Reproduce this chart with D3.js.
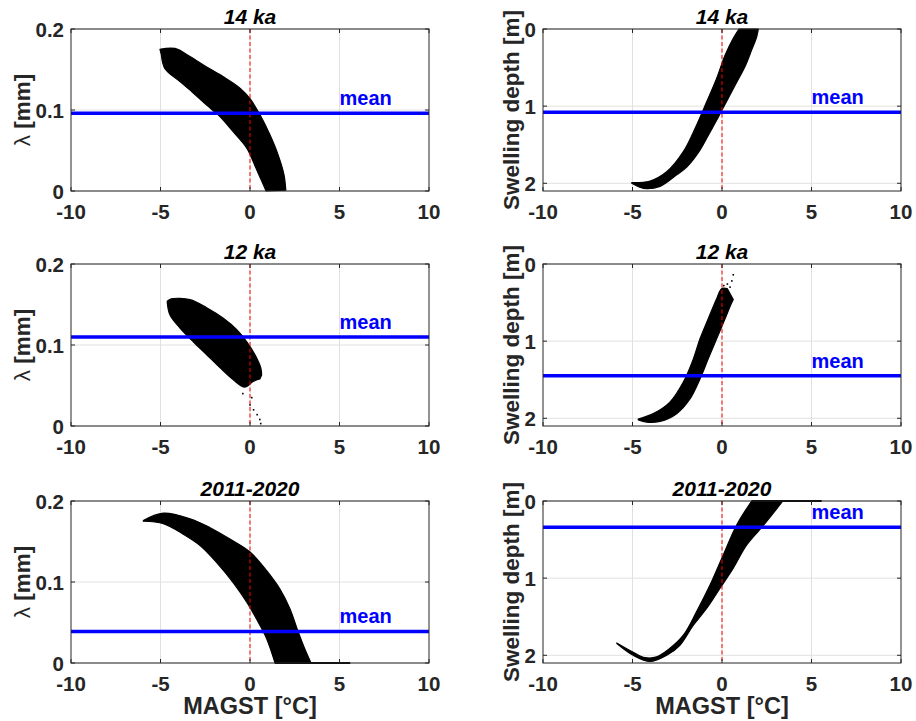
<!DOCTYPE html>
<html>
<head>
<meta charset="utf-8">
<script src="https://cdn.jsdelivr.net/npm/d3@7"></script>
<style>
  body { margin: 0; background: #fff; }
  svg { display: block; font-family: "Liberation Sans", Arial, sans-serif; }
</style>
</head>
<body>
<div id="chart"></div>
<script>
// axis ticks
const magstTicks = [-10, -5, 0, 5, 10];
const lambdaTicks = [0, 0.1, 0.2];
const depthTicks = [0, 1, 2];

const periods = ["14 ka", "12 ka", "2011-2020"];
const lambdaMeans = [0.096, 0.110, 0.039];
const depthMeans = [1.08, 1.45, 0.34];

// scatter clouds read off the picture as two edges each, [MAGST, value]
// lambda (mm)
const lambda14Upper = [[-5.03, 0.175], [-4.19, 0.176], [-3.35, 0.166], [-2.42, 0.153], [-1.49, 0.141],
  [-0.56, 0.127], [0, 0.114], [0.56, 0.094], [1.12, 0.069], [1.58, 0.044], [1.9, 0.020], [2.0, 0.001]];
const lambda14Lower = [[-4.95, 0.168], [-4.75, 0.151], [-3.91, 0.135], [-3.17, 0.121], [-2.42, 0.106],
  [-1.68, 0.092], [-0.93, 0.073], [-0.18, 0.053], [0.3, 0.03], [0.6, 0.015], [0.9, 0]];
const lambda12Upper = [[-4.62, 0.154], [-4.4, 0.157], [-3.35, 0.156], [-2.42, 0.146], [-1.49, 0.133],
  [-0.74, 0.119], [-0.18, 0.104], [0.28, 0.088], [0.60, 0.072], [0.65, 0.063]];
const lambda12Lower = [[-4.62, 0.152], [-4.47, 0.137], [-3.91, 0.121], [-3.17, 0.104], [-2.42, 0.088],
  [-1.68, 0.072], [-0.93, 0.057], [-0.3, 0.048], [0.18, 0.055], [0.55, 0.058]];
const lambdaNowUpper = [[-5.96, 0.176], [-4.84, 0.185], [-3.35, 0.178], [-2.23, 0.167], [-1.12, 0.153],
  [0, 0.137], [0.93, 0.114], [1.68, 0.091], [2.23, 0.067], [2.70, 0.038], [3.07, 0.017], [3.39, 0.001]];
const lambdaNowLower = [[-5.96, 0.175], [-4.84, 0.172], [-3.73, 0.159], [-2.79, 0.145], [-1.86, 0.124],
  [-0.93, 0.099], [-0.18, 0.075], [0.37, 0.054], [0.93, 0.030], [1.40, 0]];

// swelling depth (m)
const depth14Upper = [[-5.04, 1.99], [-4.02, 1.97], [-3.09, 1.85], [-2.16, 1.59], [-1.41, 1.24],
  [-0.85, 0.94], [-0.30, 0.64], [0.17, 0.34], [0.63, 0.12], [0.95, 0]];
const depth14Lower = [[-5.04, 2.0], [-4.6, 2.05], [-4.2, 2.07], [-3.46, 2.04], [-2.53, 1.89],
  [-1.97, 1.79], [-1.23, 1.57], [-0.7, 1.35], [-0.2, 1.14], [0.3, 0.92], [0.8, 0.70], [1.28, 0.49],
  [1.66, 0.27], [1.94, 0.10], [2.03, 0]];
const depth12Upper = [[-4.68, 2.01], [-3.84, 1.94], [-2.91, 1.79], [-2.16, 1.53], [-1.60, 1.23],
  [-1.23, 0.97], [-0.77, 0.71], [-0.30, 0.45], [-0.02, 0.32], [0.3, 0.32]];
const depth12Lower = [[-4.68, 2.02], [-4.21, 2.05], [-3.46, 2.04], [-2.53, 1.94], [-1.79, 1.75],
  [-1.23, 1.49], [-0.77, 1.23], [-0.30, 0.97], [0.17, 0.71], [0.45, 0.55], [0.63, 0.46]];
const depthNowUpper = [[-5.88, 1.84], [-4.96, 1.96], [-4.3, 2.03], [-3.65, 2.02], [-2.91, 1.91],
  [-2.16, 1.74], [-1.41, 1.43], [-0.67, 1.09], [0.07, 0.70], [0.82, 0.31], [1.66, 0]];
const depthNowLower = [[-5.86, 1.85], [-4.96, 2.0], [-4.02, 2.08], [-3.09, 2.0], [-2.35, 1.87],
  [-1.60, 1.61], [-0.85, 1.39], [-0.11, 1.13], [0.63, 0.87], [1.38, 0.57], [2.3, 0.32], [3.4, 0]];

const lambdaClouds = [[lambda14Upper, lambda14Lower], [lambda12Upper, lambda12Lower], [lambdaNowUpper, lambdaNowLower]];
const depthClouds = [[depth14Upper, depth14Lower], [depth12Upper, depth12Lower], [depthNowUpper, depthNowLower]];

// loose points trailing away from the 12 ka clouds
const lambda12Strays = [[0.0, 0.026], [0.2, 0.02], [0.4, 0.014], [0.55, 0.008], [0.6, 0.003], [-0.4, 0.04], [0.1, 0.035]];
const depth12Strays = [[0.45, 0.30], [0.55, 0.22], [0.63, 0.14], [0.3, 0.26], [0.1, 0.28]];

// thin runs of points lying on the axis limit (2011-2020)
const lambdaNowFlat = [[1.4, 0], [5.6, 0]];
const depthNowFlat = [[1.66, 0], [5.57, 0]];

const width = 916, height = 721;
const rowTops = [29, 264, 501];
const plotH = 162;
const cols = [{ left: 71, right: 429 }, { left: 543, right: 901 }];

const svg = d3.select("#chart").append("svg")
  .attr("width", width).attr("height", height);

const ink = "#262626";

function drawPanel(row, col) {
  const top = rowTops[row];
  const { left, right } = cols[col];
  const isDepth = col === 1;

  const x = d3.scaleLinear().domain([-10, 10]).range([left, right]);
  const y = isDepth
    ? d3.scaleLinear().domain([0, 2.1]).range([top, top + plotH])
    : d3.scaleLinear().domain([0, 0.2]).range([top + plotH, top]);
  const yTicks = isDepth ? depthTicks : lambdaTicks;

  const g = svg.append("g");

  // grid
  g.selectAll(".gx").data(magstTicks.slice(1, -1)).enter().append("line")
    .attr("x1", d => x(d)).attr("x2", d => x(d))
    .attr("y1", top).attr("y2", top + plotH)
    .attr("stroke", "#e0e0e0").attr("stroke-width", 1);
  g.selectAll(".gy").data(yTicks).enter().append("line")
    .attr("x1", left).attr("x2", right)
    .attr("y1", d => y(d)).attr("y2", d => y(d))
    .attr("stroke", "#e0e0e0").attr("stroke-width", 1);

  // cloud: one edge forward, the other back
  const [edgeA, edgeB] = isDepth ? depthClouds[row] : lambdaClouds[row];
  const edge = d3.line().x(d => x(d[0])).y(d => y(d[1])).curve(d3.curveCatmullRom.alpha(0.5));
  const back = edge(edgeB.slice().reverse());
  g.append("path").attr("d", edge(edgeA) + "L" + back.slice(1) + "Z")
    .attr("fill", "#000").attr("stroke", "#000").attr("stroke-width", 1.2)
    .attr("stroke-linejoin", "round");

  if (row === 1) {
    const strays = isDepth ? depth12Strays : lambda12Strays;
    g.selectAll(".stray").data(strays).enter().append("rect")
      .attr("x", d => x(d[0]) - 0.8).attr("y", d => y(d[1]) - 0.8)
      .attr("width", 1.6).attr("height", 1.6).attr("fill", "#000");
  }

  if (row === 2) {
    const flat = isDepth ? depthNowFlat : lambdaNowFlat;
    g.append("path").attr("d", d3.line().x(d => x(d[0])).y(d => y(d[1]))(flat))
      .attr("stroke", "#000").attr("stroke-width", 2);
  }

  // zero line
  g.append("line")
    .attr("x1", x(0)).attr("x2", x(0)).attr("y1", top).attr("y2", top + plotH)
    .attr("stroke", "#ff0000").attr("stroke-width", 1).attr("stroke-dasharray", "4,2.5");

  // mean
  const m = isDepth ? depthMeans[row] : lambdaMeans[row];
  g.append("line")
    .attr("x1", left).attr("x2", right).attr("y1", y(m)).attr("y2", y(m))
    .attr("stroke", "#0000ff").attr("stroke-width", 3.5);
  g.append("text")
    .attr("x", x(5)).attr("y", y(m) - 8)
    .attr("fill", "#0000ff").attr("font-weight", "bold").attr("font-size", 20)
    .text("mean");

  // box
  g.append("rect")
    .attr("x", left).attr("y", top).attr("width", right - left).attr("height", plotH)
    .attr("fill", "none").attr("stroke", ink).attr("stroke-width", 1);

  // ticks inside
  const tl = 4;
  magstTicks.forEach(t => {
    g.append("line").attr("x1", x(t)).attr("x2", x(t)).attr("y1", top + plotH).attr("y2", top + plotH - tl).attr("stroke", ink);
    g.append("line").attr("x1", x(t)).attr("x2", x(t)).attr("y1", top).attr("y2", top + tl).attr("stroke", ink);
  });
  yTicks.forEach(t => {
    g.append("line").attr("x1", left).attr("x2", left + tl).attr("y1", y(t)).attr("y2", y(t)).attr("stroke", ink);
    g.append("line").attr("x1", right).attr("x2", right - tl).attr("y1", y(t)).attr("y2", y(t)).attr("stroke", ink);
  });

  // tick labels
  g.selectAll(".xl").data(magstTicks).enter().append("text")
    .attr("x", d => x(d)).attr("y", top + plotH + 28)
    .attr("text-anchor", "middle").attr("font-size", 20.5).attr("font-weight", "bold")
    .attr("fill", ink).text(d => d);
  g.selectAll(".yl").data(yTicks).enter().append("text")
    .attr("x", left - 7).attr("y", d => y(d) + 7.5)
    .attr("text-anchor", "end").attr("font-size", 20.5).attr("font-weight", "bold")
    .attr("fill", ink).text(d => d);

  // title
  g.append("text")
    .attr("x", (left + right) / 2).attr("y", top - 5)
    .attr("text-anchor", "middle").attr("font-size", 21)
    .attr("font-weight", "bold").attr("font-style", "italic")
    .attr("fill", "#000").text(periods[row]);

  // y label
  const lx = isDepth ? 511 : 22;
  g.append("text")
    .attr("transform", `translate(${lx + 8},${top + plotH / 2}) rotate(-90)`)
    .attr("text-anchor", "middle").attr("font-size", 22.5).attr("font-weight", isDepth ? "bold" : "normal")
    .attr("fill", ink)
    .html(isDepth ? "Swelling depth [m]" : "λ <tspan font-weight='bold'>[mm]</tspan>");

  if (row === 2) {
    g.append("text")
      .attr("x", (left + right) / 2).attr("y", 714)
      .attr("text-anchor", "middle").attr("font-size", 23.5).attr("font-weight", "bold")
      .attr("fill", ink).text("MAGST [°C]");
  }
}

for (let r = 0; r < 3; r++) {
  drawPanel(r, 0);
  drawPanel(r, 1);
}
</script>
</body>
</html>
